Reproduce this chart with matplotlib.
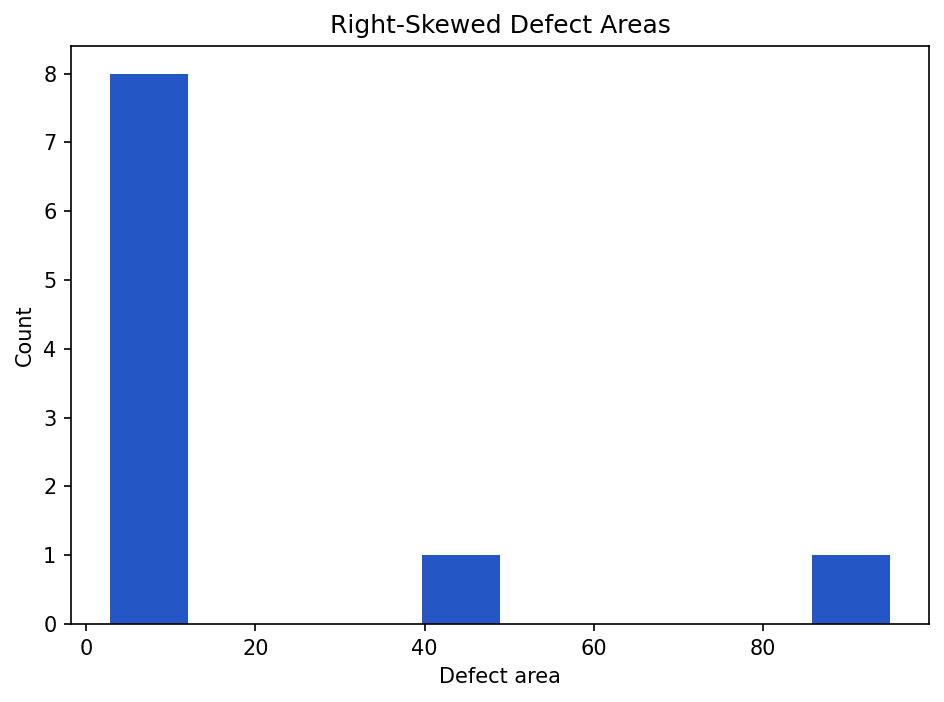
import matplotlib
matplotlib.use("Agg")
import matplotlib.pyplot as plt

# defect areas (10 bins)
defect_areas = [2.8, 3.6, 4.2, 5.1, 6.3, 7.5, 9.0, 11.4, 44.0, 95.0]
n_bins = 10
bar_color = "#2457c5"

fig, ax = plt.subplots(figsize=(944 / 150, 702 / 150), dpi=150)
ax.hist(defect_areas, bins=n_bins, color=bar_color)
ax.set_title("Right-Skewed Defect Areas")
ax.set_xlabel("Defect area")
ax.set_ylabel("Count")
fig.subplots_adjust(left=0.0752, right=0.984, top=0.9345, bottom=0.111)
fig.savefig("out.png", dpi=150)
